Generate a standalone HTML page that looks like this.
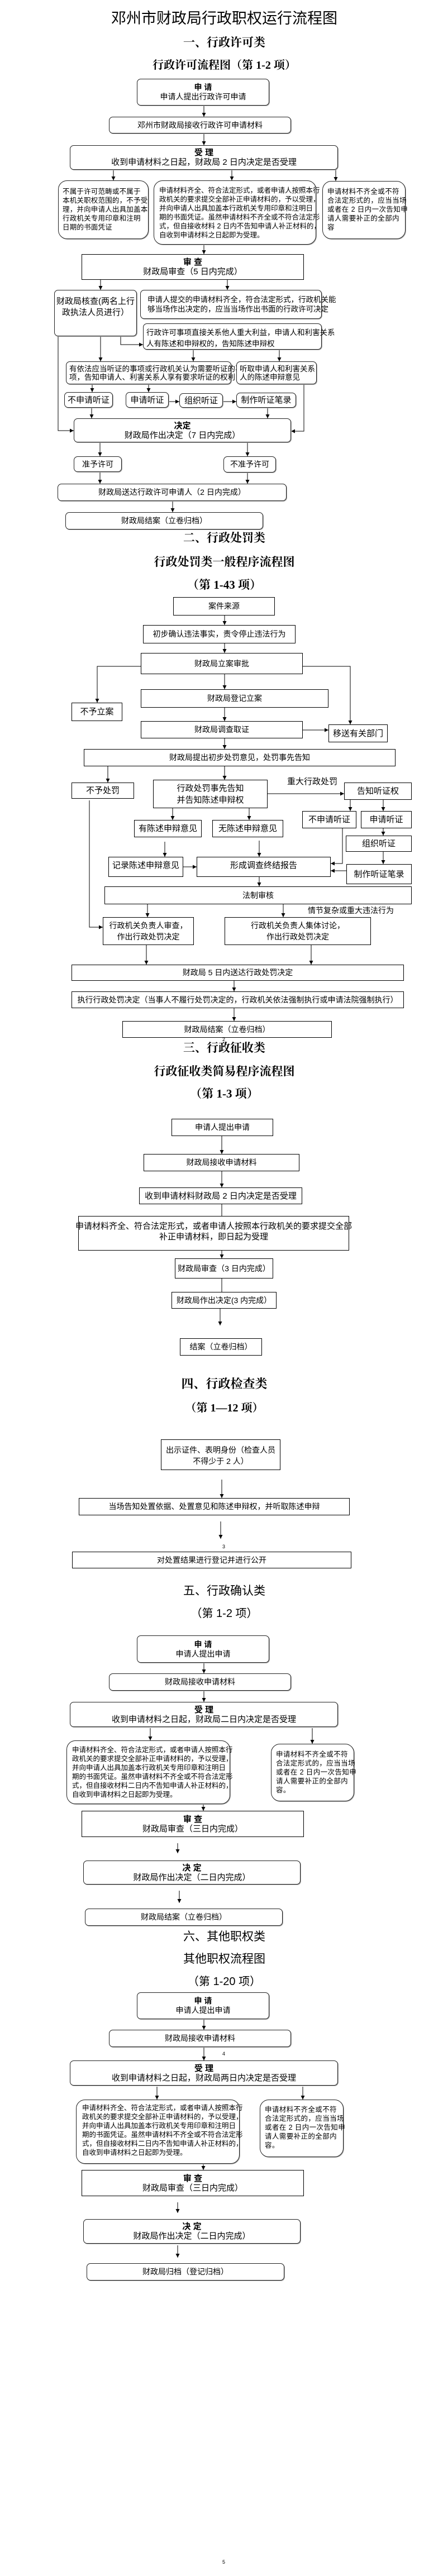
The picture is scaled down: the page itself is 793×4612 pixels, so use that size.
<!DOCTYPE html>
<html><head><meta charset="utf-8">
<style>
html,body{margin:0;padding:0;background:#fff}
body{width:793px;height:4612px;position:relative;overflow:hidden;font-family:"Liberation Sans","Noto Sans CJK SC",sans-serif;color:#000}
.b{position:absolute;box-sizing:border-box;border:1px solid #000;background:#fff;display:flex;flex-direction:column;align-items:center;justify-content:center;text-align:center;font-size:14px;line-height:17px;white-space:nowrap}
.r{border-radius:7px;border-color:#222;box-shadow:1px 1px 0 #aaa}
.rr{border-radius:16px;border-color:#222;box-shadow:1px 1px 0 #aaa}
.t{justify-content:flex-start;align-items:flex-start;text-align:left;font-size:12.5px;line-height:16px}
.h{position:absolute;left:5px;width:793px;text-align:center;white-space:nowrap}
.hs{font-family:"Liberation Serif","Noto Serif CJK SC",serif;font-weight:bold;font-size:21px;line-height:24px}
.hh{font-family:"Liberation Sans","Noto Sans CJK SC",sans-serif;font-size:21px;line-height:24px}
.l{position:absolute;font-size:14px;line-height:16px;white-space:nowrap}
.pn{position:absolute;font-size:9px;line-height:10px;left:398px}
b{font-weight:bold}
</style></head><body>
<svg width="793" height="4612" style="position:absolute;left:0;top:0" xmlns="http://www.w3.org/2000/svg">
<defs><marker id="a" markerWidth="8" markerHeight="8" refX="7" refY="4" orient="auto" markerUnits="userSpaceOnUse"><path d="M0,0.5 L7,4 L0,7.5 z" fill="#000"/></marker></defs>
<g stroke="#000" stroke-width="1" fill="none" marker-end="url(#a)">
<path d="M365 189V209"/><path d="M365 239V260"/>
<path d="M203 304V323"/><path d="M415 304V323"/><path d="M601 304V324"/>
<path d="M365 438V455"/><path d="M180 501V519"/><path d="M407 501V519"/>
<path d="M216 602V617H256"/>
<path d="M104 602V771H132"/>
<path d="M180 602V647"/><path d="M346 626V647"/><path d="M500 626V647"/>
<path d="M165 688V702"/><path d="M266 688V702"/>
<path d="M302 719H321"/><path d="M399 719H423"/>
<path d="M164 730V749"/><path d="M479 730V749"/>
<path d="M544 688V772H521"/>
<path d="M179 792V817"/><path d="M443 792V817"/>
<path d="M179 845V866"/><path d="M443 846V866"/><path d="M309 897V917"/>
<path d="M402 1102V1119"/><path d="M402 1152V1169"/>
<path d="M252 1193H174V1258"/><path d="M542 1193H627V1297"/>
<path d="M402 1207V1234"/><path d="M402 1267V1291"/><path d="M542 1307H588"/><path d="M402 1322V1341"/>
<path d="M193 1372V1401"/><path d="M402 1372V1396"/>
<path d="M479 1421H616"/>
<path d="M627 1432V1452"/><path d="M686 1432V1452"/>
<path d="M309 1447V1468"/><path d="M446 1447V1468"/>
<path d="M295 1507V1534"/><path d="M464 1505V1534"/>
<path d="M328 1552H352"/>
<path d="M613 1483V1546H592"/>
<path d="M686 1483V1496"/><path d="M686 1525V1547"/>
<path d="M620 1559H592"/>
<path d="M464 1570V1587"/>
<path d="M160 1433V1660H184"/>
<path d="M264 1619V1642"/><path d="M507 1619V1642"/>
<path d="M262 1692V1727"/><path d="M557 1692V1727"/>
<path d="M419 1756V1775"/><path d="M419 1805V1828"/>
<path d="M397 2034V2066"/><path d="M397 2097V2126"/>
<path d="M397 2239V2253"/><path d="M394 2343V2373"/>
<path d="M397 2649V2682"/><path d="M395 2724V2755"/>
<path d="M365 2977V2996"/><path d="M365 3027V3047"/>
<path d="M269 3094V3116"/><path d="M559 3094V3122"/>
<path d="M364 3230V3242"/><path d="M318 3300V3318"/><path d="M321 3385V3407"/>
<path d="M365 3615V3634"/><path d="M365 3665V3689"/>
<path d="M281 3736V3759"/><path d="M542 3736V3759"/>
<path d="M364 3869V3885"/><path d="M318 3943V3962"/><path d="M318 4020V4042"/>
</g>
<g stroke="#000" stroke-width="1" fill="none">
<path d="M397 2156V2177"/><path d="M397 2289V2313"/>
</g>
</svg>

<div class="h" style="top:18px;font-size:27px;line-height:30px;font-family:'Liberation Sans','Noto Sans CJK SC',sans-serif">邓州市财政局行政职权运行流程图</div>
<div class="h hs" style="top:64px">一、行政许可类</div>
<div class="h hs" style="top:105px;font-size:20px">行政许可流程图（第 1-2 项）</div>

<div class="b r" style="left:245px;top:141px;width:237px;height:48px"><b>申 请</b><span>申请人提出行政许可申请</span></div>
<div class="b r" style="left:195px;top:209px;width:326px;height:30px">邓州市财政局接收行政许可申请材料</div>
<div class="b r" style="left:125px;top:260px;width:480px;height:44px;font-size:15px"><b>受 理</b><span>收到申请材料之日起，财政局 2 日内决定是否受理</span></div>
<div class="b rr t" style="left:104px;top:323px;width:162px;height:105px;padding:11px 0 0 7px;font-size:12.5px;letter-spacing:0.2px">不属于许可范畴或不属于<br>本机关职权范围的，不予受<br>理，并向申请人出具加盖本<br>行政机关专用印章和注明<br>日期的书面凭证</div>
<div class="b rr t" style="left:275px;top:323px;width:291px;height:115px;padding:9px 0 0 9px">申请材料齐全、符合法定形式，或者申请人按照本行<br>政机关的要求提交全部补正申请材料的，予以受理，<br>并向申请人出具加盖本行政机关专用印章和注明日<br>期的书面凭证。虽然申请材料不齐全或不符合法定形<br>式，但自接收材料 2 日内不告知申请人补正材料的，<br>自收到申请材料之日起即为受理。</div>
<div class="b rr t" style="left:577px;top:324px;width:149px;height:104px;padding:10px 0 0 8px;font-size:12.5px;letter-spacing:0.4px">申请材料不齐全或不符<br>合法定形式的，应当当场<br>或者在 2 日内一次告知申<br>请人需要补正的全部内<br>容</div>
<div class="b" style="left:146px;top:455px;width:398px;height:46px;font-size:15px"><b>审 查</b><span>财政局审查（5 日内完成）</span></div>
<div class="b r" style="left:97px;top:519px;width:148px;height:83px;justify-content:flex-start;padding-top:10px;font-size:15px;line-height:20px">财政局核查(两名上行<br>政执法人员进行）</div>
<div class="b r t" style="left:251px;top:519px;width:325px;height:52px;padding:8px 0 0 12px;font-size:13.5px;line-height:17px">申请人提交的申请材料齐全，符合法定形式，行政机关能<br>够当场作出决定的，应当当场作出书面的行政许可决定</div>
<div class="b r t" style="left:256px;top:579px;width:320px;height:47px;padding:6px 0 0 5px;font-size:13.5px;line-height:20px">行政许可事项直接关系他人重大利益，申请人和利害关系<br>人有陈述和申辩权的，告知陈述申辩权</div>
<div class="b r t" style="left:118px;top:647px;width:296px;height:41px;padding:5px 0 0 5px;font-size:13.5px;line-height:15px">有依法应当听证的事项或行政机关认为需要听证的事<br>项，告知申请人、利害关系人享有要求听证的权利</div>
<div class="b r t" style="left:423px;top:647px;width:144px;height:41px;padding:5px 0 0 5px;font-size:13.5px;line-height:15px">听取申请人和利害关系<br>人的陈述申辩意见</div>
<div class="b r" style="left:115px;top:702px;width:87px;height:28px;font-size:15px">不申请听证</div>
<div class="b r" style="left:225px;top:702px;width:77px;height:28px;font-size:15px">申请听证</div>
<div class="b r" style="left:321px;top:704px;width:78px;height:26px;font-size:15px">组织听证</div>
<div class="b r" style="left:423px;top:703px;width:107px;height:27px;font-size:15px">制作听证笔录</div>
<div class="b r" style="left:132px;top:749px;width:389px;height:43px;font-size:15px"><b>决定</b><span>财政局作出决定（7 日内完成）</span></div>
<div class="b r" style="left:132px;top:817px;width:86px;height:28px">准予许可</div>
<div class="b r" style="left:400px;top:817px;width:94px;height:29px">不准予许可</div>
<div class="b r" style="left:103px;top:866px;width:410px;height:31px">财政局送达行政许可申请人（2 日内完成）</div>
<div class="b r" style="left:117px;top:917px;width:354px;height:31px">财政局结案（立卷归档）</div>

<div class="h hs" style="top:951px">二、行政处罚类</div>
<div class="h hs" style="top:994px">行政处罚类一般程序流程图</div>
<div class="h hs" style="top:1035px">（第 1-43 项）</div>

<div class="b" style="left:310px;top:1069px;width:182px;height:33px">案件来源</div>
<div class="b" style="left:256px;top:1119px;width:273px;height:33px">初步确认违法事实，责令停止违法行为</div>
<div class="b" style="left:252px;top:1169px;width:290px;height:38px">财政局立案审批</div>
<div class="b" style="left:252px;top:1234px;width:336px;height:33px">财政局登记立案</div>
<div class="b" style="left:128px;top:1258px;width:91px;height:33px;font-size:15px">不予立案</div>
<div class="b" style="left:252px;top:1291px;width:290px;height:31px">财政局调查取证</div>
<div class="b" style="left:588px;top:1297px;width:106px;height:32px;font-size:15px">移送有关部门</div>
<div class="b" style="left:150px;top:1341px;width:558px;height:31px">财政局提出初步处罚意见，处罚事先告知</div>
<div class="b" style="left:128px;top:1401px;width:112px;height:29px;font-size:15px">不予处罚</div>
<div class="b" style="left:274px;top:1396px;width:205px;height:51px;font-size:15px;line-height:21px">行政处罚事先告知<br>并告知陈述申辩权</div>
<div class="l" style="left:514px;top:1392px;font-size:15px">重大行政处罚</div>
<div class="b" style="left:616px;top:1401px;width:121px;height:31px;font-size:15px">告知听证权</div>
<div class="b" style="left:541px;top:1452px;width:97px;height:31px;font-size:15px">不申请听证</div>
<div class="b" style="left:646px;top:1452px;width:91px;height:31px;font-size:15px">申请听证</div>
<div class="b" style="left:240px;top:1468px;width:121px;height:31px;font-size:15px">有陈述申辩意见</div>
<div class="b" style="left:380px;top:1468px;width:127px;height:31px;font-size:15px">无陈述申辩意见</div>
<div class="b" style="left:194px;top:1534px;width:134px;height:36px;font-size:15px;justify-content:flex-start;padding-top:6px">记录陈述申辩意见</div>
<div class="b" style="left:352px;top:1534px;width:240px;height:36px;font-size:15px;justify-content:flex-start;padding-top:6px">形成调查终结报告</div>
<div class="b" style="left:619px;top:1496px;width:118px;height:29px;font-size:15px">组织听证</div>
<div class="b" style="left:620px;top:1547px;width:117px;height:36px;font-size:15px">制作听证笔录</div>
<div class="b" style="left:187px;top:1587px;width:550px;height:32px">法制审核</div>
<div class="l" style="left:551px;top:1622px">情节复杂或重大违法行为</div>
<div class="b" style="left:184px;top:1642px;width:163px;height:50px;line-height:20px">行政机关负责人审查，<br>作出行政处罚决定</div>
<div class="b" style="left:402px;top:1642px;width:262px;height:50px;line-height:20px">行政机关负责人集体讨论，<br>作出行政处罚决定</div>
<div class="b" style="left:128px;top:1727px;width:595px;height:29px">财政局 5 日内送达行政处罚决定</div>
<div class="b" style="left:128px;top:1775px;width:595px;height:30px">执行行政处罚决定（当事人不履行处罚决定的，行政机关依法强制执行或申请法院强制执行）</div>
<div class="b" style="left:219px;top:1828px;width:375px;height:30px">财政局结案（立卷归档）</div>
<div class="pn" style="top:1856px">2</div>

<div class="h hs" style="top:1864px">三、行政征收类</div>
<div class="h hs" style="top:1906px">行政征收类简易程序流程图</div>
<div class="h hs" style="top:1946px">（第 1-3 项）</div>

<div class="b" style="left:307px;top:2003px;width:182px;height:31px">申请人提出申请</div>
<div class="b" style="left:257px;top:2066px;width:279px;height:31px">财政局接收申请材料</div>
<div class="b" style="left:249px;top:2126px;width:292px;height:30px;font-size:15px">收到申请材料财政局 2 日内决定是否受理</div>
<div class="b" style="left:140px;top:2177px;width:485px;height:62px;justify-content:flex-start;padding-top:8px;font-size:15px;line-height:19px">申请材料齐全、符合法定形式，或者申请人按照本行政机关的要求提交全部<br>补正申请材料，即日起为受理</div>
<div class="b" style="left:313px;top:2253px;width:176px;height:36px">财政局审查（3 日内完成）</div>
<div class="b" style="left:307px;top:2313px;width:188px;height:30px">财政局作出决定(3 内完成）</div>
<div class="b" style="left:322px;top:2396px;width:147px;height:31px;justify-content:flex-start;padding-top:6px">结案（立卷归档）</div>

<div class="h hs" style="top:2466px;font-size:22px">四、行政检查类</div>
<div class="h hs" style="top:2509px;font-size:20px">（第 1—12 项）</div>
<div class="b" style="left:288px;top:2577px;width:214px;height:55px;justify-content:flex-start;padding-top:8px;line-height:20px">出示证件、表明身份（检查人员<br>不得少于 2 人）</div>
<div class="b" style="left:141px;top:2682px;width:485px;height:31px">当场告知处置依据、处置意见和陈述申辩权，并听取陈述申辩</div>
<div class="pn" style="top:2764px">3</div>
<div class="b" style="left:129px;top:2778px;width:500px;height:30px">对处置结果进行登记并进行公开</div>

<div class="h hh" style="top:2837px">五、行政确认类</div>
<div class="h hh" style="top:2877px;font-size:20px">（第 1-2 项）</div>
<div class="b r" style="left:245px;top:2928px;width:237px;height:49px"><b>申 请</b><span>申请人提出申请</span></div>
<div class="b r" style="left:195px;top:2996px;width:326px;height:31px">财政局接收申请材料</div>
<div class="b r" style="left:125px;top:3047px;width:480px;height:45px;font-size:15px"><b>受 理</b><span>收到申请材料之日起，财政局二日内决定是否受理</span></div>
<div class="b rr t" style="left:119px;top:3116px;width:293px;height:114px;padding:8px 0 0 9px">申请材料齐全、符合法定形式，或者申请人按照本行<br>政机关的要求提交全部补正申请材料的，予以受理，<br>并向申请人出具加盖本行政机关专用印章和注明日<br>期的书面凭证。虽然申请材料不齐全或不符合法定形<br>式，但自接收材料二日内不告知申请人补正材料的，<br>自收到申请材料之日起即为受理。</div>
<div class="b rr t" style="left:485px;top:3122px;width:149px;height:103px;padding:10px 0 0 8px;font-size:12.5px;letter-spacing:0.4px">申请材料不齐全或不符<br>合法定形式的，应当当场<br>或者在 2 日内一次告知申<br>请人需要补正的全部内<br>容。</div>
<div class="b" style="left:146px;top:3242px;width:398px;height:47px;font-size:15px"><b>审 查</b><span>财政局审查（三日内完成）</span></div>
<div class="b r" style="left:149px;top:3331px;width:389px;height:43px;font-size:15px"><b>决 定</b><span>财政局作出决定（二日内完成）</span></div>
<div class="b r" style="left:152px;top:3417px;width:354px;height:31px">财政局结案（立卷归档）</div>

<div class="h hh" style="top:3456px">六、其他职权类</div>
<div class="h hh" style="top:3496px">其他职权流程图</div>
<div class="h hh" style="top:3536px;font-size:20px">（第 1-20 项）</div>
<div class="b r" style="left:245px;top:3567px;width:237px;height:48px"><b>申 请</b><span>申请人提出申请</span></div>
<div class="b r" style="left:195px;top:3634px;width:326px;height:31px">财政局接收申请材料</div>
<div class="pn" style="top:3672px">4</div>
<div class="b r" style="left:125px;top:3689px;width:480px;height:45px;font-size:15px"><b>受 理</b><span>收到申请材料之日起，财政局两日内决定是否受理</span></div>
<div class="b rr t" style="left:136px;top:3759px;width:293px;height:115px;padding:6px 0 0 10px">申请材料齐全、符合法定形式，或者申请人按照本行<br>政机关的要求提交全部补正申请材料的，予以受理，<br>并向申请人出具加盖本行政机关专用印章和注明日<br>期的书面凭证。虽然申请材料不齐全或不符合法定形<br>式，但自接收材料二日内不告知申请人补正材料的，<br>自收到申请材料之日起即为受理。</div>
<div class="b rr t" style="left:465px;top:3759px;width:150px;height:103px;padding:9px 0 0 8px;font-size:12.5px;letter-spacing:0.4px">申请材料不齐全或不符<br>合法定形式的，应当当场<br>或者在 2 日内一次告知申<br>请人需要补正的全部内<br>容。</div>
<div class="b" style="left:146px;top:3885px;width:398px;height:47px;font-size:15px"><b>审 查</b><span>财政局审查（三日内完成）</span></div>
<div class="b r" style="left:149px;top:3973px;width:389px;height:44px;font-size:15px"><b>决 定</b><span>财政局作出决定（二日内完成）</span></div>
<div class="b r" style="left:155px;top:4052px;width:354px;height:31px">财政局归档（登记归档）</div>
<div class="pn" style="top:4582px">5</div>
</body></html>
